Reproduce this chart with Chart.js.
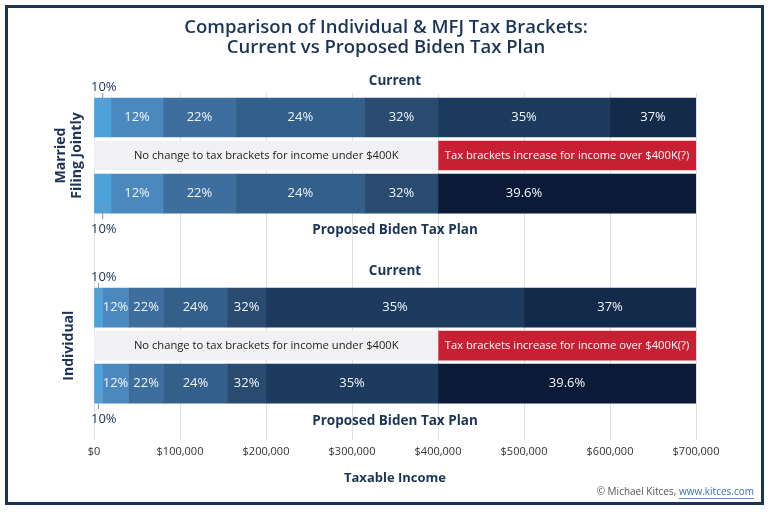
<!DOCTYPE html>
<html>
<head>
<meta charset="utf-8">
<script src="https://cdn.jsdelivr.net/npm/chart.js@4.4.0/dist/chart.umd.min.js"></script>
<style>
  html, body { margin: 0; padding: 0; background: #fff; }
  #wrap { width: 771px; height: 518px; }
</style>
</head>
<body>
<div id="wrap"><canvas id="taxChart" width="771" height="518"></canvas></div>
<script>
// --- data ---
var groups = ['MFJ', 'Individual'];
var currentRates = ['10%', '12%', '22%', '24%', '32%', '35%', '37%'];
var mfjCurrentTops = [19750, 80250, 165000, 315000, 400000, 600000, 700000];
var indCurrentTops = [9875, 40125, 81000, 155000, 200000, 500000, 700000];
var mfjProposedRates = ['10%', '12%', '22%', '24%', '32%', '39.6%'];
var mfjProposedTops = [19750, 80250, 165000, 315000, 400000, 700000];
var indProposedRates = ['10%', '12%', '22%', '24%', '32%', '35%', '39.6%'];
var indProposedTops = [9875, 40125, 81000, 155000, 200000, 400000, 700000];
var noteSplit = 400000;
var xMax = 700000;
var xTicks = [0, 100000, 200000, 300000, 400000, 500000, 600000, 700000];
var noteLow = 'No change to tax brackets for income under $400K';
var noteHigh = 'Tax brackets increase for income over $400K(?)';

var NAVY = '#1b3456';
var rateColors = {
    '10%': '#4ea2db', '12%': '#4a88be', '22%': '#3d6e9d', '24%': '#335f8b',
    '32%': '#294b70', '35%': '#1d3b5f', '37%': '#132a4b', '39.6%': '#0b1b37'
};

// rows: each group = current bar, note band, proposed bar
var rows = [
    { group: 0, kind: 'current', rates: currentRates, tops: mfjCurrentTops, y: 0 },
    { group: 0, kind: 'proposed', rates: mfjProposedRates, tops: mfjProposedTops, y: 2 },
    { group: 1, kind: 'current', rates: currentRates, tops: indCurrentTops, y: 5 },
    { group: 1, kind: 'proposed', rates: indProposedRates, tops: indProposedTops, y: 7 }
];
var noteRows = [1, 6];

var allRates = ['10%', '12%', '22%', '24%', '32%', '35%', '37%', '39.6%'];
var datasets = allRates.map(function (rate) {
    var pts = [];
    rows.forEach(function (r) {
        var i = r.rates.indexOf(rate);
        if (i < 0) return;
        var from = i === 0 ? 0 : r.tops[i - 1];
        pts.push({ x: [from, r.tops[i]], y: r.y, rate: rate, kind: r.kind, group: r.group });
    });
    return {
        label: rate, data: pts, backgroundColor: rateColors[rate],
        barThickness: 39, grouped: false, borderWidth: 0
    };
});
datasets.push({
    label: 'noteLow', data: noteRows.map(function (y) { return { x: [0, noteSplit], y: y }; }),
    backgroundColor: '#f1f1f3', barThickness: 29, grouped: false, note: noteLow, textColor: '#222'
});
datasets.push({
    label: 'noteHigh', data: noteRows.map(function (y) { return { x: [noteSplit, xMax], y: y }; }),
    backgroundColor: '#c91f32', barThickness: 29, grouped: false, note: noteHigh, textColor: '#fff'
});

function money(v) { return '$' + Number(v).toLocaleString('en-US'); }

var FONT = "'Open Sans', 'Noto Sans', sans-serif";

var decor = {
    id: 'decor',
    beforeDraw: function (chart) {
        var c = chart.ctx;
        c.save();
        c.fillStyle = '#fff';
        c.fillRect(0, 0, chart.width, chart.height);
        c.strokeStyle = NAVY;
        c.lineWidth = 3;
        c.strokeRect(6.5, 6.5, 756, 497);
        c.restore();
    },
    afterDatasetsDraw: function (chart) {
        var c = chart.ctx, xs = chart.scales.x, ys = chart.scales.y, area = chart.chartArea;
        var midX = (area.left + area.right) / 2;
        c.save();
        c.textAlign = 'center';
        c.textBaseline = 'middle';

        // labels inside segments, and 10% callouts
        chart.data.datasets.forEach(function (ds, di) {
            var meta = chart.getDatasetMeta(di);
            meta.data.forEach(function (bar, i) {
                var d = ds.data[i];
                var left = Math.min(bar.x, bar.base), right = Math.max(bar.x, bar.base);
                if (ds.note) {
                    c.fillStyle = ds.textColor;
                    c.font = '500 11.2px ' + FONT;
                    c.fillText(ds.note, (left + right) / 2, bar.y);
                    return;
                }
                if (d.rate === '10%') {
                    var cx = (left + right) / 2;
                    var top = d.kind === 'current';
                    var edge = top ? bar.y - 19.5 : bar.y + 19.5;
                    c.strokeStyle = '#8a94a0';
                    c.lineWidth = 1;
                    c.beginPath();
                    if (top) {
                        c.moveTo(cx, edge - 5); c.lineTo(cx, edge + 8);
                        c.stroke();
                        c.beginPath(); c.moveTo(cx - 2.5, edge + 5); c.lineTo(cx, edge + 8); c.lineTo(cx + 2.5, edge + 5); c.stroke();
                    } else {
                        c.moveTo(cx, edge + 6); c.lineTo(cx, edge - 9);
                        c.stroke();
                        c.beginPath(); c.moveTo(cx - 2.5, edge - 6); c.lineTo(cx, edge - 9); c.lineTo(cx + 2.5, edge - 6); c.stroke();
                    }
                    c.fillStyle = NAVY;
                    c.font = '500 13px ' + FONT;
                    c.textAlign = 'left';
                    c.fillText('10%', area.left - 3, top ? edge - 11 : edge + 16);
                    c.textAlign = 'center';
                    return;
                }
                var lx = (left + right) / 2;
                // MFJ proposed top bracket label sits over the $400K-$600K span
                if (d.rate === '39.6%' && d.group === 0) lx = (xs.getPixelForValue(400000) + xs.getPixelForValue(600000)) / 2;
                c.fillStyle = '#f2f5f9';
                c.font = '500 13px ' + FONT;
                c.fillText(d.rate, lx, bar.y);
            });
        });

        // Current / Proposed captions
        c.fillStyle = NAVY;
        c.font = '700 13.5px ' + FONT;
        rows.forEach(function (r) {
            var py = ys.getPixelForValue(r.y);
            if (r.kind === 'current') c.fillText('Current', midX, py - 36);
            else c.fillText('Proposed Biden Tax Plan', midX, py + 37);
        });

        // group labels on the left (rotated)
        c.font = '700 14px ' + FONT;
        noteRows.forEach(function (y, g) {
            var py = ys.getPixelForValue(y);
            c.save();
            c.translate(69, py);
            c.rotate(-Math.PI / 2);
            if (g === 0) {
                c.fillText('Married', 0, -8);
                c.fillText('Filing Jointly', 0, 8);
            } else {
                c.fillText('Individual', 0, 0);
            }
            c.restore();
        });

        // title
        c.font = '600 18.5px ' + FONT;
        c.fillText('Comparison of Individual & MFJ Tax Brackets:', 386, 28);
        c.fillText('Current vs Proposed Biden Tax Plan', 386, 48);

        // credit
        c.textAlign = 'right';
        c.font = '400 10px ' + FONT;
        var link = 'www.kitces.com';
        var lw = c.measureText(link).width;
        c.fillStyle = '#3b6fb6';
        c.fillText(link, 754, 492);
        c.fillRect(754 - lw, 498, lw, 0.8);
        c.fillStyle = '#555';
        c.fillText('\u00a9 Michael Kitces, ', 754 - lw, 492);
        c.restore();
    }
};

Chart.defaults.font.family = FONT;

new Chart(document.getElementById('taxChart'), {
    type: 'bar',
    data: { datasets: datasets },
    plugins: [decor],
    options: {
        indexAxis: 'y',
        responsive: false,
        animation: false,
        layout: { padding: { top: 93, left: 94, right: 75, bottom: 32 } },
        plugins: { legend: { display: false }, tooltip: { enabled: false }, title: { display: false } },
        scales: {
            x: {
                type: 'linear', min: 0, max: xMax,
                afterBuildTicks: function (s) { s.ticks = xTicks.map(function (v) { return { value: v }; }); },
                ticks: { callback: money, color: '#333', font: { size: 11 }, padding: 5, maxRotation: 0 },
                grid: { color: '#e1e1e1', drawTicks: false },
                border: { display: false },
                title: { display: true, text: 'Taxable Income', color: NAVY, font: { size: 13, weight: '700' }, padding: { top: 7, bottom: 0 } }
            },
            y: {
                type: 'linear', reverse: true, display: false, bounds: 'data', offset: false, grace: 0,
                min: -0.645, max: 8.487
            }
        }
    }
});
</script>
</body>
</html>
